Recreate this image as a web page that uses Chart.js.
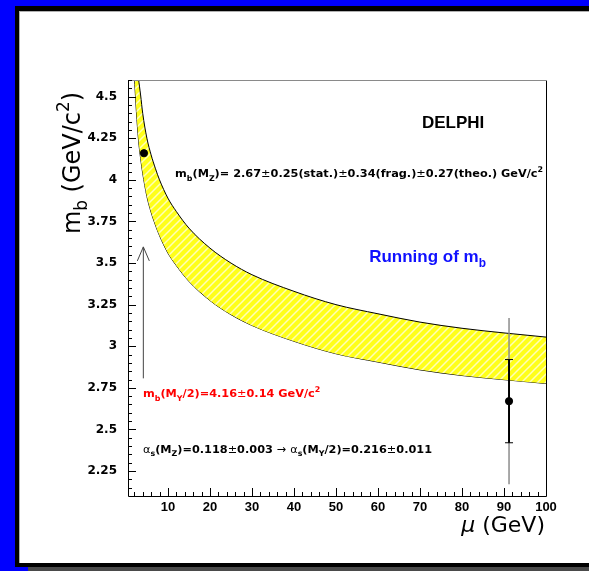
<!DOCTYPE html>
<html>
<head>
<meta charset="utf-8">
<script src="https://cdn.jsdelivr.net/npm/chart.js@4.4.0/dist/chart.umd.min.js"></script>
<style>
  html, body { margin: 0; padding: 0; background: #fff; }
  #grafico { display: block; }
</style>
</head>
<body>
<canvas id="grafico" width="589" height="571"></canvas>
<script>
// banda do running de m_b (mu em GeV, m_b em GeV/c2)
const muBanda = [2, 2.5, 3, 3.5, 4, 5, 6, 7, 8, 10, 12, 15, 20, 25, 30, 40, 50, 60, 70, 80, 90, 100];
const mbSuperior = [4.91, 4.74, 4.61, 4.51, 4.40, 4.25, 4.15, 4.07, 4.00, 3.89, 3.81, 3.71, 3.59, 3.50, 3.43, 3.33, 3.25, 3.195, 3.145, 3.108, 3.08, 3.055];
const mbInferior = [4.63, 4.41, 4.24, 4.13, 4.04, 3.90, 3.805, 3.73, 3.665, 3.56, 3.485, 3.39, 3.275, 3.19, 3.125, 3.03, 2.955, 2.905, 2.858, 2.824, 2.799, 2.776];

// medidas
const pontosMu = [4.3, 91.2];
const pontosMb = [4.16, 2.67];
const erroMu = 91.2;
const erroStat = [2.42, 2.92];
const erroTotal = [2.17, 3.17];

// seta em M_Y/2
const setaMu = 4.15;
const setaMb = [2.807, 3.597];

// eixos
const xTicks = [10, 20, 30, 40, 50, 60, 70, 80, 90, 100];
const yTicks = [2.25, 2.5, 2.75, 3, 3.25, 3.5, 3.75, 4, 4.25, 4.5];

// textos (posicao em unidades dos eixos)
const FONTE_LIB = '"Liberation Sans", Arial';
const FONTE_DJV = '"DejaVu Sans"';
const textos = [
  { mu: 77.9, mb: 4.31, align: "center", size: 17, font: FONTE_LIB, color: "#000", partes: [["DELPHI"]] },
  { mu: 11.7, mb: 4.015, size: 11.3, font: FONTE_DJV, color: "#000", partes: [["m"], ["b", "sub"], ["(M"], ["Z", "sub"], [")= 2.67"], ["\u00b1", "sym"], ["0.25(stat.)"], ["\u00b1", "sym"], ["0.34(frag.)"], ["\u00b1", "sym"], ["0.27(theo.) GeV/c"], ["2", "sup"]] },
  { mu: 57.9, mb: 3.504, size: 17, font: FONTE_LIB, color: "#1010ff", partes: [["Running of m"], ["b", "sub"]] },
  { mu: 4.07, mb: 2.693, size: 11.3, font: FONTE_DJV, color: "#ff0000", partes: [["m"], ["b", "sub"], ["(M"], ["\u03a5", "sub"], ["/2)=4.16"], ["\u00b1", "sym"], ["0.14 GeV/c"], ["2", "sup"]] },
  { mu: 4.07, mb: 2.36, size: 11.3, font: FONTE_DJV, color: "#000", partes: [["\u03b1", "sym"], ["s", "sub"], ["(M"], ["Z", "sub"], [")=0.118"], ["\u00b1", "sym"], ["0.003 "], ["\u2192", "sym"], [" "], ["\u03b1", "sym"], ["s", "sub"], ["(M"], ["\u03a5", "sub"], ["/2)=0.216"], ["\u00b1", "sym"], ["0.011"]] },
];

function criarHachura() {
  const c = document.createElement("canvas");
  c.width = 8;
  c.height = 8;
  const g = c.getContext("2d");
  g.fillStyle = "#ffff1a";
  g.fillRect(0, 0, 8, 8);
  g.strokeStyle = "#ffffb8";
  g.lineWidth = 1.5;
  g.beginPath();
  g.moveTo(0, 8); g.lineTo(8, 0);
  g.moveTo(-4, 4); g.lineTo(4, -4);
  g.moveTo(4, 12); g.lineTo(12, 4);
  g.stroke();
  return g.createPattern(c, "repeat");
}

function fonteParte(modo, tamanho, familia, negrito) {
  let s = tamanho;
  if (modo === "sub" || modo === "sup") s = tamanho * 0.7;
  const peso = modo === "sym" || !negrito ? "normal" : "bold";
  const estilo = modo === "ital" ? "italic " : "";
  return estilo + peso + " " + s + "px " + familia;
}

function larguraRica(ctx, partes, tamanho, familia, negrito) {
  let w = 0;
  for (const p of partes) {
    ctx.font = fonteParte(p[1] || "n", tamanho, familia, negrito);
    w += ctx.measureText(p[0]).width;
  }
  return w;
}

function desenharRico(ctx, x, y, partes, tamanho, cor, familia, negrito) {
  let cx = x;
  ctx.fillStyle = cor;
  ctx.textBaseline = "alphabetic";
  ctx.textAlign = "left";
  for (const p of partes) {
    const modo = p[1] || "n";
    let dy = 0;
    if (modo === "sub") dy = tamanho * 0.3;
    if (modo === "sup") dy = -tamanho * 0.45;
    ctx.font = fonteParte(modo, tamanho, familia, negrito);
    ctx.fillText(p[0], cx, y + dy);
    cx += ctx.measureText(p[0]).width;
  }
}

const moldura = {
  id: "moldura",
  beforeDraw(chart) {
    const c = chart.ctx;
    c.save();
    c.fillStyle = "#0000ff";
    c.fillRect(0, 0, 589, 571);
    c.fillStyle = "#000";
    c.fillRect(15, 6, 574, 561);
    c.fillStyle = "#ffffff";
    c.fillRect(19, 11, 570, 552);
    c.fillStyle = "#4a4a4a";
    c.fillRect(28, 567, 561, 4);
    c.fillStyle = "#b0b0b0";
    c.fillRect(19, 11, 570, 1);
    c.fillRect(19, 11, 1, 552);
    c.restore();
  },
  afterDraw(chart) {
    const c = chart.ctx;
    const a = chart.chartArea;
    const xs = chart.scales.x;
    const ys = chart.scales.y;
    c.save();
    // quadro
    c.lineWidth = 1;
    c.strokeStyle = "#000";
    c.beginPath();
    c.moveTo(a.left + 0.5, a.top);
    c.lineTo(a.left + 0.5, a.bottom + 0.5);
    c.lineTo(a.right + 0.5, a.bottom + 0.5);
    c.lineTo(a.right + 0.5, a.top);
    c.stroke();
    c.strokeStyle = "#8a8a8a";
    c.beginPath();
    c.moveTo(a.left, a.top + 0.5);
    c.lineTo(a.right + 1, a.top + 0.5);
    c.stroke();
    // marcas do eixo y (para dentro)
    c.strokeStyle = "#000";
    c.beginPath();
    for (let v = 2.15; v < 4.6; v += 0.05) {
      const py = Math.round(ys.getPixelForValue(v)) + 0.5;
      const maior = Math.abs(v / 0.25 - Math.round(v / 0.25)) < 1e-6;
      c.moveTo(a.left, py);
      c.lineTo(a.left + (maior ? 8 : 4), py);
    }
    // marcas do eixo x
    for (let v = 2; v <= 100; v += 2) {
      const px = Math.round(xs.getPixelForValue(v)) + 0.5;
      const maior = v % 10 === 0;
      c.moveTo(px, a.bottom);
      c.lineTo(px, a.bottom - (maior ? 8 : 4));
    }
    c.stroke();
    // titulos dos eixos
    const tituloY = [["m"], ["b", "sub"], [" (GeV/c"], ["2", "sup"], [")"]];
    const wY = larguraRica(c, tituloY, 24, FONTE_DJV, false);
    c.save();
    c.translate(80, 163);
    c.rotate(-Math.PI / 2);
    desenharRico(c, -wY / 2, 0, tituloY, 24, "#000", FONTE_DJV, false);
    c.restore();
    const tituloX = [["\u03bc", "ital"], [" (GeV)"]];
    const wX = larguraRica(c, tituloX, 22, FONTE_DJV, false);
    desenharRico(c, 545 - wX, 532, tituloX, 22, "#000", FONTE_DJV, false);
    c.restore();
  },
  afterDatasetsDraw(chart) {
    const c = chart.ctx;
    const xs = chart.scales.x;
    const ys = chart.scales.y;
    c.save();
    // ponta da seta
    const px = xs.getPixelForValue(setaMu);
    const py = ys.getPixelForValue(setaMb[1]);
    c.strokeStyle = "#444";
    c.lineWidth = 1;
    c.beginPath();
    c.moveTo(px - 6, py + 14);
    c.lineTo(px, py);
    c.lineTo(px + 6, py + 14);
    c.stroke();
    // textos
    for (const t of textos) {
      let x = xs.getPixelForValue(t.mu);
      const y = ys.getPixelForValue(t.mb);
      if (t.align === "center") x -= larguraRica(c, t.partes, t.size, t.font, true) / 2;
      desenharRico(c, x, y, t.partes, t.size, t.color, t.font, true);
    }
    c.restore();
  },
};

const hachura = criarHachura();

new Chart(document.getElementById("grafico"), {
  type: "scatter",
  data: {
    datasets: [
      {
        label: "pontos",
        data: pontosMu.map((m, i) => ({ x: m, y: pontosMb[i] })),
        pointRadius: 3.6,
        pointBackgroundColor: "#000",
        pointBorderColor: "#000",
        order: 0,
      },
      {
        label: "erro stat",
        data: erroStat.map((v) => ({ x: erroMu, y: v })),
        showLine: true,
        borderColor: "#000",
        borderWidth: 2,
        pointStyle: "line",
        pointRadius: 4,
        pointBorderWidth: 1,
        pointBorderColor: "#000",
        order: 1,
      },
      {
        label: "erro total",
        data: erroTotal.map((v) => ({ x: erroMu, y: v })),
        showLine: true,
        borderColor: "#8c8c8c",
        borderWidth: 1.5,
        pointRadius: 0,
        order: 2,
      },
      {
        label: "seta",
        data: setaMb.map((v) => ({ x: setaMu, y: v })),
        showLine: true,
        borderColor: "#444",
        borderWidth: 1,
        pointRadius: 0,
        order: 3,
      },
      {
        label: "superior",
        data: muBanda.map((m, i) => ({ x: m, y: mbSuperior[i] })),
        showLine: true,
        borderColor: "#000",
        borderWidth: 1,
        pointRadius: 0,
        cubicInterpolationMode: "monotone",
        fill: "+1",
        backgroundColor: hachura,
        order: 4,
      },
      {
        label: "inferior",
        data: muBanda.map((m, i) => ({ x: m, y: mbInferior[i] })),
        showLine: true,
        borderColor: "#000",
        borderWidth: 1,
        pointRadius: 0,
        cubicInterpolationMode: "monotone",
        fill: false,
        order: 5,
      },
    ],
  },
  plugins: [moldura],
  options: {
    responsive: false,
    animation: false,
    devicePixelRatio: 1,
    layout: { padding: { left: 0, top: 80, right: 43, bottom: 0 } },
    plugins: {
      legend: { display: false },
      tooltip: { enabled: false },
    },
    scales: {
      x: {
        type: "linear",
        min: 0.5,
        max: 100,
        grid: { display: false, drawTicks: false },
        border: { display: false },
        afterBuildTicks: (s) => { s.ticks = xTicks.map((v) => ({ value: v })); },
        afterFit: (s) => { s.height = 75; },
        ticks: {
          autoSkip: false,
          maxRotation: 0,
          padding: 4,
          color: "#000",
          font: { family: FONTE_LIB, weight: "bold", size: 13 },
        },
      },
      y: {
        type: "linear",
        min: 2.1,
        max: 4.6,
        grid: { display: false, drawTicks: false },
        border: { display: false },
        afterBuildTicks: (s) => { s.ticks = yTicks.map((v) => ({ value: v })); },
        afterFit: (s) => { s.width = 128; },
        ticks: {
          autoSkip: false,
          padding: 11,
          color: "#000",
          font: { family: FONTE_DJV, weight: "bold", size: 12 },
          callback: (v) => String(Number(v.toFixed(2))),
        },
      },
    },
  },
});
</script>
</body>
</html>
